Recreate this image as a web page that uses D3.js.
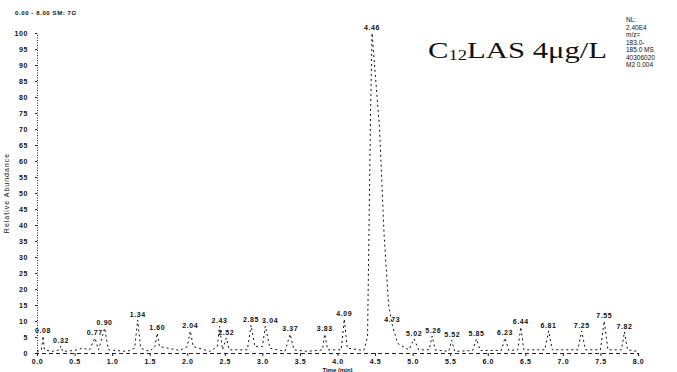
<!DOCTYPE html>
<html>
<head>
<meta charset="utf-8">
<script src="https://cdn.jsdelivr.net/npm/d3@7"></script>
<style>
  body { margin: 0; background: #fff; }
  svg { display: block; }
  .tick-lbl { font-family: "Liberation Sans", Arial, sans-serif; font-size: 7px; font-weight: bold; fill: #111; letter-spacing: 0.6px; }
  .small { font-family: "Liberation Sans", Arial, sans-serif; font-size: 6px; fill: #111; }
</style>
</head>
<body>
<div id="chart"></div>
<script>
// chromatogram trace (time in min, relative abundance %)
const traceTime = [0.00, 0.06, 0.08, 0.10, 0.20, 0.30, 0.32, 0.34, 0.50, 0.60, 0.70, 0.77, 0.82, 0.90, 0.95,
  1.20, 1.30, 1.34, 1.38, 1.50, 1.57, 1.60, 1.63, 1.90, 2.00, 2.04, 2.08, 2.30, 2.40, 2.43, 2.47, 2.52, 2.56,
  2.80, 2.85, 2.90, 3.00, 3.04, 3.10, 3.30, 3.37, 3.42, 3.60, 3.80, 3.83, 3.87, 4.05, 4.09, 4.13, 4.35,
  4.40, 4.42, 4.44, 4.46, 4.50, 4.56, 4.62, 4.68, 4.73, 4.80, 4.95, 5.02, 5.08, 5.22, 5.26, 5.30, 5.48,
  5.52, 5.56, 5.80, 5.85, 5.90, 6.18, 6.23, 6.28, 6.40, 6.44, 6.48, 6.76, 6.81, 6.86, 7.20, 7.25, 7.30,
  7.50, 7.55, 7.60, 7.78, 7.82, 7.86, 8.00];
const traceAbund = [0.5, 1, 5.3, 1, 0.5, 1, 2.2, 0.5, 0.8, 1.5, 1, 4.7, 1, 7.8, 1,
  0.5, 1.5, 10.3, 1.5, 0.5, 2, 6.2, 2, 0.8, 2, 6.9, 2, 0.5, 2, 8.4, 1, 4.7, 1,
  1, 8.7, 2, 2, 8.4, 1.5, 0.5, 5.9, 1, 0.5, 1, 5.9, 1, 1, 10.6, 1.5, 0.8,
  5, 40, 75, 100, 88, 70, 37, 15, 8.7, 3, 1, 4.4, 1, 1, 5.3, 1, 0.5,
  4, 0.5, 0.8, 4.4, 0.8, 0.8, 4.7, 0.8, 1, 8.1, 1, 1, 6.9, 1, 1, 6.9, 1,
  1, 10, 1, 1, 6.6, 1, 0.5];

// labelled peaks
const peakRT = [0.08, 0.32, 0.77, 0.90, 1.34, 1.60, 2.04, 2.43, 2.52, 2.85, 3.04, 3.37, 3.83, 4.09, 4.46,
  4.73, 5.02, 5.26, 5.52, 5.85, 6.23, 6.44, 6.81, 7.25, 7.55, 7.82];
const peakHeight = [5.3, 2.2, 4.7, 7.8, 10.3, 6.2, 6.9, 8.4, 4.7, 8.7, 8.4, 5.9, 5.9, 10.6, 100,
  8.7, 4.4, 5.3, 4.0, 4.4, 4.7, 8.1, 6.9, 6.9, 10.0, 6.6];

const xTicks = [0, 0.5, 1, 1.5, 2, 2.5, 3, 3.5, 4, 4.5, 5, 5.5, 6, 6.5, 7, 7.5, 8];
const yTicks = [0, 5, 10, 15, 20, 25, 30, 35, 40, 45, 50, 55, 60, 65, 70, 75, 80, 85, 90, 95, 100];

const infoLines = ['NL:', '2.40E4', 'm/z=', '183.0-', '185.0  MS', '40306020', 'M2 0.004'];

const width = 677, height = 372;

const svg = d3.select('#chart').append('svg')
  .attr('width', width)
  .attr('height', height);

const x = d3.scaleLinear().domain([0, 8]).range([37, 638]);
const y = d3.scaleLinear().domain([0, 100]).range([353, 33]);

// y axis (dotted line, small ticks)
const yAxis = svg.append('g')
  .attr('transform', 'translate(' + x(0) + ',0)')
  .call(d3.axisLeft(y).tickValues(yTicks).tickSize(2).tickFormat(d3.format('d')));
yAxis.select('.domain').attr('stroke', '#222').attr('stroke-dasharray', '1,1.5');
yAxis.selectAll('.tick line').attr('stroke', '#222');
yAxis.selectAll('.tick text').attr('class', 'tick-lbl').attr('x', -9);

// x axis
const xAxis = svg.append('g')
  .attr('transform', 'translate(0,' + y(0) + ')')
  .call(d3.axisBottom(x).tickValues(xTicks).tickSize(3).tickFormat(d3.format('.1f')));
xAxis.select('.domain').attr('stroke', '#222').attr('stroke-width', 1.2).attr('stroke-dasharray', '4,3');
xAxis.selectAll('.tick line').attr('stroke', '#222');
xAxis.selectAll('.tick text').attr('class', 'tick-lbl').attr('y', 6);

// trace
const line = d3.line()
  .x((d, i) => x(traceTime[i]))
  .y((d) => y(d));

svg.append('path')
  .datum(traceAbund)
  .attr('d', line)
  .attr('fill', 'none')
  .attr('stroke', '#111')
  .attr('stroke-width', 1)
  .attr('stroke-dasharray', '2,3');

// peak labels, pushed right when they would overlap the previous one
const labels = svg.selectAll('text.peak')
  .data(peakRT)
  .enter()
  .append('text')
  .attr('class', 'tick-lbl peak')
  .attr('y', (d, i) => y(peakHeight[i]) - 3)
  .attr('text-anchor', 'middle')
  .text((d) => d.toFixed(2));

let lastRight = -Infinity;
let lastY = 0;
labels.each(function(d, i) {
  const w = this.getComputedTextLength();
  let cx = x(d);
  const ly = y(peakHeight[i]) - 3;
  if (cx - w / 2 < lastRight + 3 && Math.abs(ly - lastY) < 8) {
    cx = lastRight + 3 + w / 2;
  }
  d3.select(this).attr('x', cx);
  lastRight = cx + w / 2;
  lastY = ly;
});

// axis titles
svg.append('text')
  .attr('class', 'small')
  .attr('transform', 'translate(9,' + y(50) + ') rotate(-90)')
  .attr('text-anchor', 'middle')
  .style('font-size', '7px')
  .style('letter-spacing', '1px')
  .text('Relative Abundance');

svg.append('text')
  .attr('class', 'small')
  .attr('x', (x(0) + x(8)) / 2)
  .attr('y', 372)
  .attr('text-anchor', 'middle')
  .style('font-weight', 'bold')
  .text('Time (min)');

// header
svg.append('text')
  .attr('class', 'tick-lbl')
  .attr('x', 15)
  .attr('y', 15)
  .style('font-size', '6px')
  .text('0.00 - 8.00   SM: 7G');

// info block on right
svg.append('g').selectAll('text')
  .data(infoLines)
  .enter()
  .append('text')
  .attr('class', 'small')
  .attr('x', 626)
  .attr('y', (d, i) => 22 + i * 7.5)
  .style('font-size', '6.5px')
  .text((d) => d);

// sample title
const title = svg.append('text')
  .attr('x', 428)
  .attr('y', 58)
  .attr('textLength', 179)
  .attr('lengthAdjust', 'spacingAndGlyphs')
  .style('font-family', '"Liberation Serif", "DejaVu Serif", serif')
  .style('font-size', '23px')
  .attr('fill', '#111');
title.append('tspan').text('C');
title.append('tspan').attr('dy', 2).style('font-size', '14px').text('12');
title.append('tspan').attr('dy', -2).text('LAS 4μg/L');
</script>
</body>
</html>
